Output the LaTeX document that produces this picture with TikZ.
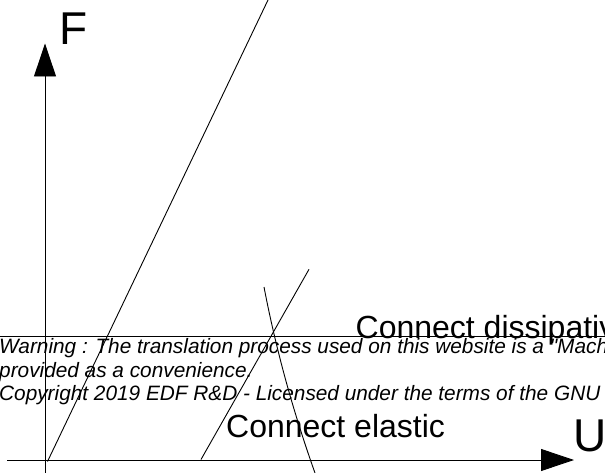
\documentclass[tikz,border=0pt]{standalone}
\usepackage{fontspec}
\setmainfont{Liberation Sans}
\newfontfamily\notefont{Liberation Sans}
\usetikzlibrary{arrows.meta}
\tikzset{
  thinline/.style={line width=0.9bp, black},
  axisline/.style={line width=0.9bp, black, -{Triangle[length=33bp,width=22bp]}},
  biglabel/.style={anchor=base west, inner sep=0pt, font=\fontsize{46bp}{50bp}\selectfont},
  midlabel/.style={anchor=base west, inner sep=0pt, font=\fontsize{32bp}{36bp}\selectfont},
  notelabel/.style={anchor=base west, inner sep=0pt, font=\notefont\fontsize{20.8bp}{23.5bp}\selectfont\itshape},
}
\begin{document}
\begin{tikzpicture}[x=1bp,y=-1bp]
\useasboundingbox (0,0) rectangle (605,473);
% axis end points
\coordinate (ustart) at (7,460);
\coordinate (uend) at (574,460);
\coordinate (fstart) at (45,473);
\coordinate (fend) at (45,43.5);
% curve end points
\coordinate (aone) at (47.5,461.5);
\coordinate (bone) at (268,0);
\coordinate (atwo) at (201,459.5);
\coordinate (btwo) at (309,269.3);
\coordinate (athree) at (264,287);
\coordinate (bthree) at (315,473);
\coordinate (hleft) at (0,336);
\coordinate (hright) at (605,336);
% lines
\draw[thinline] (hleft) -- (hright);
\draw[thinline] (aone) -- (bone);
\draw[thinline] (atwo) -- (btwo);
\draw[thinline] (athree) .. controls (275.9,349) and (292.9,411) .. (bthree);
% axes
\draw[axisline] (fstart) -- (fend);
\draw[axisline] (ustart) -- (uend);
% labels
\node[biglabel] (flabel) at (59,45) {F};
\node[biglabel] (ulabel) at (573,451) {U};
\node[midlabel] (dissip) at (355.5,338) {Connect dissipative};
\node[midlabel] (elastic) at (226,437) {Connect elastic};
\node[notelabel] (warn) at (-1,353.5) {Warning : The translation process used on this website is a "Machine translation"};
\node[notelabel] (conv) at (-1,377) {provided as a convenience.};
\node[notelabel] (copy) at (-1,400.5) {Copyright 2019 EDF R\&D - Licensed under the terms of the GNU FDL};
\end{tikzpicture}
\end{document}
